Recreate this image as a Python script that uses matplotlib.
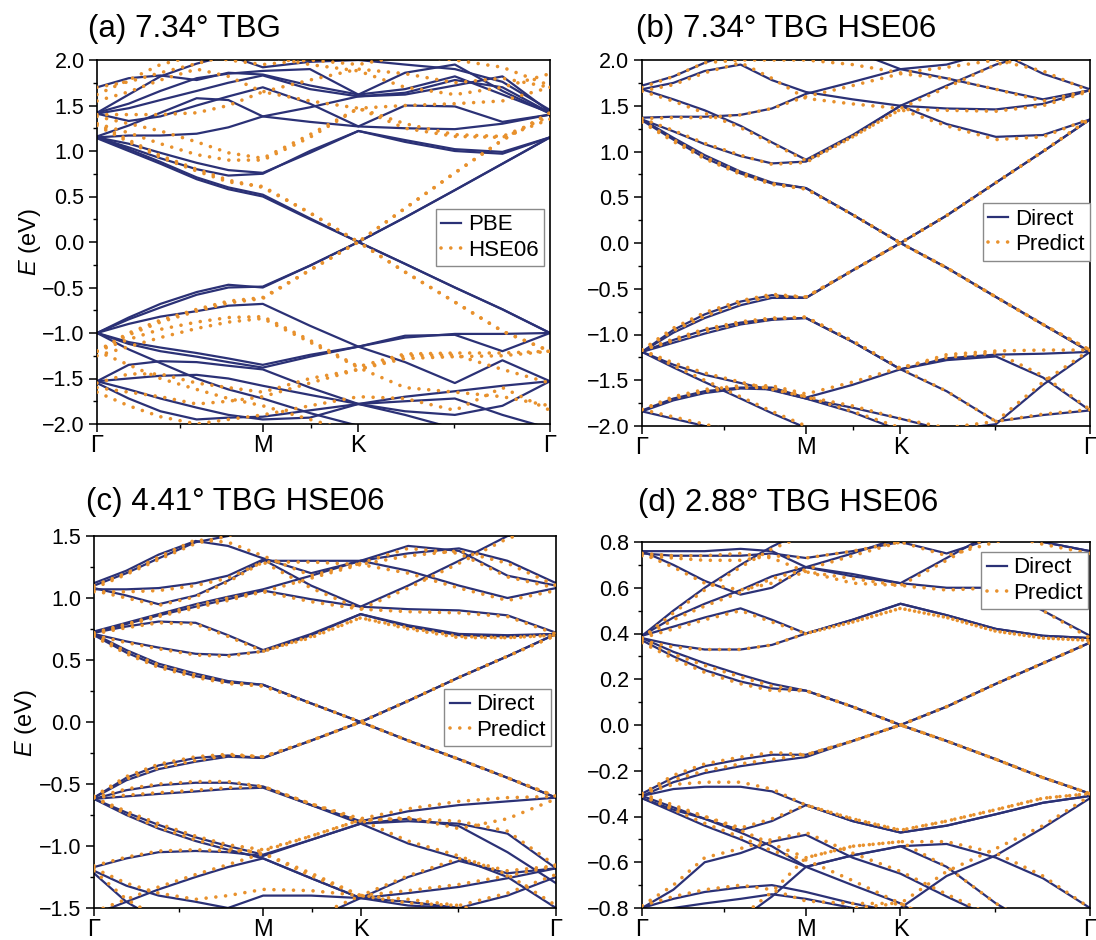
import matplotlib
matplotlib.use("Agg")
import matplotlib.pyplot as plt
from matplotlib.ticker import MultipleLocator, FuncFormatter

plt.rcParams['font.family'] = ['Liberation Sans', 'DejaVu Sans']
plt.rcParams['mathtext.fontset'] = 'custom'
plt.rcParams['mathtext.it'] = 'Liberation Sans:italic'
plt.rcParams['mathtext.rm'] = 'Liberation Sans'

# k-path sample positions (fraction of Γ-M-K-Γ path)
kgrid = [0, 0.07, 0.14, 0.22, 0.29, 0.366, 0.47, 0.577, 0.68, 0.79, 0.895, 1.0]
kticks = [0, 0.366, 0.577, 1.0]
klabels = ['Γ', 'M', 'K', 'Γ']
kminor = [0.183, 0.4717, 0.7887]

# ---------------- panel (a): 7.34° TBG, PBE vs HSE06 ----------------
a_pbe = [
    [1.15, 1.02, 0.88, 0.71, 0.60, 0.52, 0.26, 0.00, 0.27, 0.57, 0.86, 1.15],
    [1.14, 1.00, 0.86, 0.69, 0.58, 0.50, 0.25, 0.00, 0.27, 0.57, 0.86, 1.15],
    [1.15, 1.04, 0.92, 0.80, 0.73, 0.75, 1.00, 1.22, 1.10, 1.00, 0.97, 1.15],
    [1.15, 1.08, 0.98, 0.87, 0.79, 0.76, 0.98, 1.22, 1.12, 1.02, 0.99, 1.15],
    [1.15, 1.17, 1.17, 1.19, 1.26, 1.38, 1.32, 1.27, 1.25, 1.24, 1.30, 1.40],
    [1.16, 1.28, 1.42, 1.58, 1.56, 1.38, 1.48, 1.60, 1.64, 1.78, 1.70, 1.42],
    [1.41, 1.33, 1.38, 1.50, 1.60, 1.70, 1.52, 1.27, 1.50, 1.49, 1.32, 1.40],
    [1.41, 1.47, 1.56, 1.66, 1.75, 1.83, 1.68, 1.60, 1.62, 1.72, 1.82, 1.43],
    [1.42, 1.52, 1.66, 1.80, 1.85, 1.88, 1.90, 1.62, 1.68, 1.82, 1.62, 1.42],
    [1.70, 1.80, 1.83, 1.78, 1.86, 1.84, 1.72, 1.62, 1.86, 1.95, 1.66, 1.41],
    [1.42, 1.62, 1.82, 1.96, 2.05, 1.92, 1.98, 2.00, 1.95, 1.90, 1.76, 1.45],
    [-1.00, -0.85, -0.72, -0.58, -0.50, -0.49, -0.26, 0.00, -0.24, -0.50, -0.74, -1.00],
    [-1.00, -0.83, -0.68, -0.55, -0.47, -0.50, -0.26, 0.00, -0.24, -0.50, -0.74, -1.00],
    [-1.00, -0.90, -0.82, -0.76, -0.70, -0.68, -0.92, -1.15, -1.32, -1.55, -1.30, -1.53],
    [-1.00, -1.12, -1.20, -1.26, -1.32, -1.38, -1.26, -1.15, -1.05, -1.01, -1.01, -1.00],
    [-1.00, -1.10, -1.16, -1.22, -1.28, -1.35, -1.24, -1.15, -1.03, -1.02, -1.20, -1.00],
    [-1.53, -1.35, -1.31, -1.32, -1.36, -1.40, -1.60, -1.78, -1.90, -2.05, -2.10, -2.10],
    [-1.53, -1.50, -1.47, -1.46, -1.50, -1.58, -1.68, -1.78, -1.70, -1.64, -1.58, -1.53],
    [-1.53, -1.62, -1.72, -1.82, -1.90, -1.95, -1.93, -1.78, -1.86, -1.90, -1.80, -1.53],
    [-1.00, -1.18, -1.33, -1.50, -1.62, -1.72, -1.88, -2.02, -2.10, -2.10, -2.10, -2.10],
    [-1.55, -1.72, -1.86, -1.95, -1.93, -1.92, -1.85, -1.78, -1.75, -1.72, -1.90, -2.05],
]
a_hse = [
    [1.30, 1.12, 0.95, 0.80, 0.68, 0.60, 0.32, 0.00, 0.37, 0.76, 1.12, 1.42],
    [1.28, 1.10, 0.93, 0.78, 0.66, 0.61, 0.32, 0.00, 0.37, 0.76, 1.12, 1.42],
    [1.30, 1.20, 1.08, 0.96, 0.90, 0.90, 1.15, 1.47, 1.25, 1.16, 1.15, 1.35],
    [1.38, 1.30, 1.22, 1.10, 0.98, 0.92, 1.18, 1.47, 1.30, 1.18, 1.16, 1.38],
    [1.40, 1.40, 1.40, 1.42, 1.50, 1.65, 1.55, 1.47, 1.50, 1.52, 1.55, 1.70],
    [1.55, 1.65, 1.78, 1.90, 1.82, 1.65, 1.78, 1.90, 1.85, 1.75, 1.80, 1.70],
    [1.62, 1.78, 1.95, 2.05, 2.00, 1.95, 2.00, 1.95, 2.05, 2.00, 1.92, 1.72],
    [1.70, 1.76, 1.86, 1.96, 2.05, 2.05, 1.95, 1.88, 1.70, 1.62, 1.70, 1.85],
    [-1.20, -1.00, -0.86, -0.74, -0.65, -0.61, -0.31, 0.00, -0.33, -0.66, -0.98, -1.20],
    [-1.20, -1.02, -0.88, -0.76, -0.67, -0.62, -0.31, 0.00, -0.33, -0.66, -0.98, -1.20],
    [-1.20, -1.07, -0.96, -0.88, -0.83, -0.82, -1.08, -1.37, -1.23, -1.22, -1.22, -1.20],
    [-1.25, -1.15, -1.05, -0.95, -0.88, -0.84, -1.10, -1.38, -1.60, -1.65, -1.70, -1.80],
    [-1.55, -1.45, -1.45, -1.55, -1.60, -1.65, -1.50, -1.40, -1.25, -1.24, -1.40, -1.55],
    [-1.60, -1.65, -1.70, -1.78, -1.75, -1.70, -1.55, -1.40, -1.28, -1.26, -1.25, -1.20],
    [-1.20, -1.35, -1.50, -1.62, -1.72, -1.80, -1.95, -2.10, -2.10, -2.10, -2.10, -2.10],
    [-1.65, -1.80, -1.92, -2.00, -1.95, -1.90, -1.80, -1.70, -1.72, -1.85, -1.60, -1.85],
]

# ---------------- panel (b): 7.34° TBG HSE06, Direct vs Predict ----------------
b_dir = [
    [1.35, 1.15, 0.96, 0.78, 0.66, 0.60, 0.31, 0.00, 0.30, 0.66, 1.00, 1.35],
    [1.34, 1.13, 0.93, 0.76, 0.65, 0.60, 0.31, 0.00, 0.30, 0.66, 1.00, 1.35],
    [1.35, 1.22, 1.08, 0.95, 0.87, 0.89, 1.17, 1.50, 1.30, 1.16, 1.18, 1.35],
    [1.68, 1.57, 1.45, 1.28, 1.10, 0.91, 1.18, 1.50, 1.47, 1.46, 1.52, 1.67],
    [1.37, 1.38, 1.38, 1.40, 1.47, 1.63, 1.76, 1.90, 1.80, 1.68, 1.57, 1.67],
    [1.68, 1.75, 1.88, 1.95, 1.78, 1.65, 1.57, 1.50, 1.72, 1.95, 2.10, 2.10],
    [1.72, 1.82, 1.97, 2.10, 2.10, 2.10, 2.10, 1.90, 1.95, 2.10, 1.85, 1.68],
    [-1.19, -0.98, -0.82, -0.68, -0.60, -0.60, -0.30, 0.00, -0.27, -0.59, -0.89, -1.19],
    [-1.19, -0.95, -0.78, -0.64, -0.57, -0.60, -0.30, 0.00, -0.27, -0.59, -0.89, -1.19],
    [-1.19, -1.06, -0.95, -0.87, -0.83, -0.82, -1.08, -1.38, -1.62, -1.95, -1.88, -1.83],
    [-1.19, -1.09, -0.99, -0.89, -0.84, -0.82, -1.08, -1.38, -1.26, -1.22, -1.21, -1.19],
    [-1.19, -1.33, -1.44, -1.53, -1.61, -1.70, -1.85, -2.05, -2.20, -2.20, -2.20, -2.20],
    [-1.19, -1.36, -1.52, -1.70, -1.86, -2.02, -2.20, -2.20, -2.20, -2.20, -2.20, -2.20],
    [-1.83, -1.70, -1.62, -1.58, -1.58, -1.69, -1.55, -1.38, -1.28, -1.24, -1.47, -1.83],
    [-1.84, -1.72, -1.64, -1.59, -1.60, -1.70, -1.80, -1.92, -2.05, -1.98, -1.55, -1.19],
    [-1.84, -1.92, -2.00, -2.10, -2.20, -2.20, -2.20, -2.20, -2.20, -2.20, -2.20, -2.20],
]
b_pred = [
    [1.33, 1.13, 0.94, 0.77, 0.65, 0.59, 0.31, 0.00, 0.30, 0.66, 1.00, 1.36],
    [1.32, 1.11, 0.92, 0.75, 0.64, 0.59, 0.31, 0.00, 0.30, 0.66, 1.00, 1.36],
    [1.36, 1.23, 1.09, 0.96, 0.86, 0.88, 1.16, 1.46, 1.28, 1.13, 1.16, 1.36],
    [1.66, 1.55, 1.42, 1.26, 1.09, 0.90, 1.16, 1.46, 1.45, 1.44, 1.50, 1.66],
    [1.36, 1.37, 1.37, 1.40, 1.47, 1.60, 1.72, 1.85, 1.80, 1.68, 1.55, 1.67],
    [1.66, 1.73, 1.86, 1.97, 1.80, 1.58, 1.52, 1.47, 1.70, 1.95, 2.05, 2.10],
    [1.70, 1.82, 1.97, 2.00, 2.00, 2.00, 1.95, 1.86, 1.92, 2.00, 1.88, 1.66],
    [-1.17, -0.96, -0.80, -0.66, -0.58, -0.59, -0.30, 0.00, -0.27, -0.59, -0.89, -1.17],
    [-1.17, -0.93, -0.76, -0.63, -0.56, -0.59, -0.30, 0.00, -0.27, -0.59, -0.89, -1.17],
    [-1.17, -1.05, -0.94, -0.86, -0.82, -0.81, -1.07, -1.37, -1.62, -1.95, -1.87, -1.82],
    [-1.17, -1.07, -0.97, -0.88, -0.83, -0.81, -1.07, -1.37, -1.22, -1.18, -1.17, -1.17],
    [-1.17, -1.31, -1.42, -1.52, -1.60, -1.68, -1.84, -2.02, -2.20, -2.20, -2.20, -2.20],
    [-1.17, -1.34, -1.50, -1.68, -1.84, -2.00, -2.20, -2.20, -2.20, -2.20, -2.20, -2.20],
    [-1.82, -1.68, -1.60, -1.56, -1.56, -1.65, -1.52, -1.36, -1.25, -1.20, -1.45, -1.82],
    [-1.82, -1.70, -1.62, -1.58, -1.58, -1.68, -1.78, -1.92, -2.02, -1.95, -1.52, -1.17],
    [-1.82, -1.90, -1.98, -2.08, -2.20, -2.20, -2.20, -2.20, -2.20, -2.20, -2.20, -2.20],
]

# ---------------- panel (c): 4.41° TBG HSE06 ----------------
c_dir = [
    [0.71, 0.58, 0.47, 0.39, 0.33, 0.30, 0.15, 0.00, 0.17, 0.36, 0.53, 0.71],
    [0.70, 0.56, 0.45, 0.37, 0.32, 0.30, 0.15, 0.00, 0.17, 0.36, 0.53, 0.71],
    [0.71, 0.65, 0.60, 0.55, 0.54, 0.57, 0.70, 0.87, 0.77, 0.70, 0.69, 0.71],
    [0.72, 0.77, 0.81, 0.80, 0.70, 0.58, 0.71, 0.87, 0.78, 0.71, 0.70, 0.71],
    [0.72, 0.79, 0.86, 0.93, 0.99, 1.06, 0.99, 0.93, 0.91, 0.90, 0.86, 0.72],
    [0.73, 0.80, 0.87, 0.95, 1.01, 1.07, 1.18, 1.30, 1.22, 1.10, 1.00, 1.08],
    [1.08, 1.02, 0.95, 1.02, 1.14, 1.30, 1.30, 1.30, 1.36, 1.40, 1.30, 1.12],
    [1.07, 1.07, 1.08, 1.12, 1.18, 1.31, 1.10, 0.93, 1.10, 1.30, 1.50, 1.60],
    [1.10, 1.20, 1.32, 1.45, 1.50, 1.60, 1.60, 1.60, 1.60, 1.60, 1.60, 1.60],
    [1.12, 1.22, 1.35, 1.46, 1.42, 1.32, 1.20, 1.30, 1.42, 1.38, 1.18, 1.10],
    [-0.61, -0.47, -0.38, -0.32, -0.28, -0.29, -0.15, 0.00, -0.15, -0.30, -0.45, -0.61],
    [-0.61, -0.45, -0.35, -0.29, -0.27, -0.29, -0.15, 0.00, -0.15, -0.30, -0.45, -0.61],
    [-0.62, -0.55, -0.51, -0.49, -0.49, -0.52, -0.67, -0.82, -0.78, -0.84, -1.05, -1.30],
    [-0.62, -0.60, -0.58, -0.56, -0.54, -0.53, -0.67, -0.80, -0.72, -0.67, -0.64, -0.61],
    [-0.62, -0.73, -0.83, -0.93, -1.00, -1.07, -0.95, -0.82, -0.98, -1.10, -1.25, -1.50],
    [-0.62, -0.75, -0.86, -0.96, -1.03, -1.10, -1.26, -1.42, -1.25, -1.12, -1.22, -1.18],
    [-1.17, -1.10, -1.05, -1.04, -1.05, -1.08, -0.95, -0.82, -0.80, -0.82, -0.90, -1.18],
    [-1.20, -1.32, -1.40, -1.45, -1.50, -1.40, -1.40, -1.42, -1.38, -1.33, -1.26, -1.18],
    [-1.55, -1.45, -1.35, -1.25, -1.17, -1.10, -1.26, -1.42, -1.45, -1.50, -1.60, -1.60],
    [-1.22, -1.45, -1.60, -1.70, -1.70, -1.70, -1.60, -1.42, -1.48, -1.50, -1.40, -1.25],
]
c_pred = [
    [0.70, 0.57, 0.46, 0.38, 0.32, 0.29, 0.15, 0.00, 0.17, 0.36, 0.53, 0.70],
    [0.69, 0.55, 0.44, 0.36, 0.31, 0.29, 0.15, 0.00, 0.17, 0.36, 0.53, 0.70],
    [0.70, 0.64, 0.59, 0.54, 0.53, 0.57, 0.68, 0.84, 0.75, 0.68, 0.68, 0.70],
    [0.71, 0.76, 0.80, 0.79, 0.69, 0.57, 0.69, 0.84, 0.76, 0.69, 0.68, 0.70],
    [0.71, 0.78, 0.85, 0.92, 0.98, 1.05, 0.97, 0.91, 0.89, 0.88, 0.85, 0.71],
    [0.72, 0.79, 0.86, 0.94, 1.00, 1.05, 1.16, 1.27, 1.20, 1.08, 0.98, 1.06],
    [1.06, 1.00, 0.94, 1.01, 1.13, 1.29, 1.29, 1.27, 1.34, 1.38, 1.28, 1.10],
    [1.05, 1.05, 1.06, 1.10, 1.16, 1.29, 1.08, 0.91, 1.08, 1.28, 1.48, 1.60],
    [1.08, 1.19, 1.31, 1.44, 1.50, 1.60, 1.60, 1.60, 1.60, 1.60, 1.60, 1.60],
    [1.10, 1.20, 1.33, 1.47, 1.45, 1.34, 1.18, 1.28, 1.40, 1.36, 1.17, 1.08],
    [-0.60, -0.46, -0.37, -0.31, -0.27, -0.28, -0.15, 0.00, -0.15, -0.30, -0.45, -0.60],
    [-0.60, -0.44, -0.34, -0.28, -0.26, -0.28, -0.15, 0.00, -0.15, -0.30, -0.45, -0.60],
    [-0.61, -0.54, -0.50, -0.48, -0.48, -0.52, -0.66, -0.80, -0.77, -0.86, -0.78, -0.62],
    [-0.61, -0.59, -0.57, -0.55, -0.53, -0.52, -0.66, -0.78, -0.70, -0.64, -0.61, -0.60],
    [-0.61, -0.72, -0.82, -0.92, -0.99, -1.03, -0.92, -0.79, -0.96, -1.08, -1.23, -1.48],
    [-0.61, -0.74, -0.85, -0.95, -1.02, -1.06, -1.24, -1.40, -1.24, -1.10, -1.20, -1.16],
    [-1.16, -1.09, -1.04, -1.03, -1.04, -1.04, -0.92, -0.79, -0.78, -0.80, -0.88, -1.16],
    [-1.18, -1.30, -1.38, -1.43, -1.40, -1.35, -1.36, -1.40, -1.36, -1.31, -1.24, -1.16],
    [-1.53, -1.43, -1.33, -1.23, -1.15, -1.06, -1.22, -1.40, -1.43, -1.48, -1.58, -1.60],
    [-1.20, -1.43, -1.58, -1.68, -1.68, -1.68, -1.58, -1.40, -1.46, -1.48, -1.38, -1.23],
]

# ---------------- panel (d): 2.88° TBG HSE06 ----------------
d_dir = [
    [0.37, 0.30, 0.24, 0.19, 0.16, 0.15, 0.08, 0.00, 0.08, 0.18, 0.27, 0.36],
    [0.38, 0.32, 0.27, 0.22, 0.18, 0.15, 0.08, 0.00, 0.08, 0.18, 0.27, 0.36],
    [0.38, 0.35, 0.33, 0.33, 0.35, 0.40, 0.46, 0.53, 0.48, 0.42, 0.39, 0.38],
    [0.39, 0.43, 0.47, 0.51, 0.46, 0.40, 0.46, 0.53, 0.48, 0.42, 0.39, 0.38],
    [0.39, 0.47, 0.53, 0.59, 0.65, 0.69, 0.75, 0.82, 0.86, 0.85, 0.80, 0.76],
    [0.39, 0.50, 0.60, 0.70, 0.78, 0.85, 0.90, 0.90, 0.90, 0.90, 0.90, 0.90],
    [0.76, 0.70, 0.63, 0.57, 0.60, 0.69, 0.65, 0.62, 0.60, 0.60, 0.50, 0.39],
    [0.76, 0.76, 0.76, 0.77, 0.76, 0.69, 0.66, 0.62, 0.73, 0.85, 0.85, 0.85],
    [0.75, 0.74, 0.74, 0.74, 0.75, 0.73, 0.76, 0.80, 0.75, 0.82, 0.85, 0.85],
    [0.85, 0.85, 0.85, 0.85, 0.85, 0.85, 0.85, 0.85, 0.85, 0.85, 0.80, 0.76],
    [-0.30, -0.23, -0.18, -0.15, -0.13, -0.13, -0.07, 0.00, -0.07, -0.15, -0.23, -0.30],
    [-0.31, -0.25, -0.21, -0.18, -0.16, -0.14, -0.07, 0.00, -0.07, -0.15, -0.23, -0.30],
    [-0.31, -0.28, -0.27, -0.27, -0.29, -0.35, -0.42, -0.47, -0.44, -0.39, -0.34, -0.31],
    [-0.32, -0.37, -0.41, -0.46, -0.42, -0.35, -0.42, -0.47, -0.44, -0.39, -0.34, -0.31],
    [-0.32, -0.38, -0.44, -0.50, -0.56, -0.62, -0.70, -0.78, -0.90, -0.95, -0.95, -0.95],
    [-0.31, -0.36, -0.41, -0.47, -0.53, -0.62, -0.57, -0.53, -0.52, -0.58, -0.67, -0.80],
    [-0.90, -0.90, -0.90, -0.85, -0.75, -0.62, -0.57, -0.53, -0.62, -0.78, -0.90, -0.95],
    [-0.95, -0.95, -0.95, -0.95, -0.90, -0.85, -0.82, -0.80, -0.66, -0.57, -0.45, -0.32],
    [-0.80, -0.72, -0.60, -0.56, -0.51, -0.48, -0.58, -0.65, -0.75, -0.85, -0.90, -0.95],
    [-0.80, -0.76, -0.73, -0.71, -0.70, -0.73, -0.78, -0.82, -0.90, -0.95, -0.95, -0.95],
    [-0.82, -0.80, -0.78, -0.76, -0.74, -0.76, -0.80, -0.90, -0.95, -0.95, -0.95, -0.95],
]
d_pred = [
    [0.36, 0.29, 0.23, 0.18, 0.15, 0.15, 0.08, 0.00, 0.08, 0.18, 0.27, 0.36],
    [0.37, 0.31, 0.26, 0.21, 0.17, 0.15, 0.08, 0.00, 0.08, 0.18, 0.27, 0.36],
    [0.37, 0.34, 0.33, 0.33, 0.35, 0.40, 0.45, 0.51, 0.47, 0.41, 0.38, 0.37],
    [0.38, 0.42, 0.46, 0.50, 0.45, 0.40, 0.45, 0.51, 0.47, 0.41, 0.38, 0.37],
    [0.38, 0.46, 0.52, 0.58, 0.64, 0.68, 0.74, 0.80, 0.85, 0.84, 0.79, 0.75],
    [0.38, 0.49, 0.59, 0.69, 0.77, 0.83, 0.90, 0.90, 0.90, 0.90, 0.90, 0.90],
    [0.75, 0.69, 0.62, 0.59, 0.62, 0.67, 0.62, 0.61, 0.59, 0.60, 0.50, 0.38],
    [0.75, 0.74, 0.74, 0.75, 0.73, 0.67, 0.64, 0.61, 0.72, 0.84, 0.85, 0.85],
    [0.74, 0.73, 0.72, 0.72, 0.74, 0.73, 0.76, 0.80, 0.74, 0.80, 0.85, 0.85],
    [-0.30, -0.22, -0.17, -0.14, -0.12, -0.13, -0.07, 0.00, -0.07, -0.15, -0.23, -0.30],
    [-0.30, -0.24, -0.20, -0.17, -0.15, -0.13, -0.07, 0.00, -0.07, -0.15, -0.23, -0.30],
    [-0.30, -0.26, -0.25, -0.25, -0.28, -0.35, -0.41, -0.46, -0.42, -0.37, -0.32, -0.30],
    [-0.31, -0.36, -0.40, -0.45, -0.41, -0.35, -0.41, -0.46, -0.42, -0.37, -0.32, -0.30],
    [-0.31, -0.37, -0.43, -0.49, -0.55, -0.59, -0.68, -0.78, -0.88, -0.95, -0.95, -0.95],
    [-0.30, -0.35, -0.40, -0.46, -0.52, -0.58, -0.53, -0.51, -0.51, -0.56, -0.66, -0.80],
    [-0.90, -0.90, -0.90, -0.84, -0.73, -0.58, -0.53, -0.51, -0.62, -0.78, -0.90, -0.95],
    [-0.95, -0.95, -0.95, -0.95, -0.90, -0.85, -0.80, -0.78, -0.64, -0.54, -0.44, -0.31],
    [-0.79, -0.70, -0.58, -0.54, -0.50, -0.47, -0.56, -0.64, -0.74, -0.84, -0.90, -0.95],
    [-0.79, -0.75, -0.72, -0.70, -0.72, -0.77, -0.78, -0.78, -0.88, -0.95, -0.95, -0.95],
]

NAVY = '#2b3176'
ORANGE = '#e8912d'
solid = dict(color=NAVY, lw=1.6, solid_joinstyle='round', zorder=2)
dots = dict(color=ORANGE, lw=2.6, linestyle=(0, (0.01, 2.7)),
            dash_capstyle='round', zorder=3)

fig = plt.figure(figsize=(10.96, 9.4), dpi=100)
W, H = 1096.0, 940.0

def axes_px(l, r, t, b):
    return fig.add_axes([l / W, 1 - b / H, (r - l) / W, (b - t) / H])

panels = [
    dict(rect=(97, 550, 60, 424), solid=a_pbe, dots=a_hse, names=('PBE', 'HSE06'),
         ylim=(-2, 2), major=0.5, minor=0.25, fmt='%.1f', leg=(0.748, 0.591),
         title='(a) 7.34° TBG', tpos=(88, 29), ylab=(30, 242)),
    dict(rect=(642, 1090, 60, 426), solid=b_dir, dots=b_pred, names=('Direct', 'Predict'),
         ylim=(-2, 2), major=0.5, minor=0.25, fmt='%.1f', leg=(0.761, 0.609),
         title='(b) 7.34° TBG HSE06', tpos=(636, 29), ylab=None),
    dict(rect=(94, 556, 536, 908), solid=c_dir, dots=c_pred, names=('Direct', 'Predict'),
         ylim=(-1.5, 1.5), major=0.5, minor=0.25, fmt='%.1f', leg=(0.758, 0.589),
         title='(c) 4.41° TBG HSE06', tpos=(86, 502), ylab=(26, 723)),
    dict(rect=(642, 1090, 542, 908), solid=d_dir, dots=d_pred, names=('Direct', 'Predict'),
         ylim=(-0.8, 0.8), major=0.2, minor=0.1, fmt='%.1f', leg=(0.757, 0.973),
         title='(d) 2.88° TBG HSE06', tpos=(638, 503), ylab=None),
]

for p in panels:
    ax = axes_px(*p['rect'])
    for i, band in enumerate(p['solid']):
        ax.plot(kgrid, band, label=p['names'][0] if i == 0 else None, **solid)
    for i, band in enumerate(p['dots']):
        ax.plot(kgrid, band, label=p['names'][1] if i == 0 else None, **dots)
    ax.set_xlim(0, 1)
    ax.set_ylim(*p['ylim'])
    ax.set_xticks(kticks)
    ax.set_xticklabels(klabels)
    ax.set_xticks(kminor, minor=True)
    ax.yaxis.set_major_locator(MultipleLocator(p['major']))
    ax.yaxis.set_minor_locator(MultipleLocator(p['minor']))
    ax.yaxis.set_major_formatter(FuncFormatter(
        lambda v, pos, f=p['fmt']: (f % (0.0 if abs(v) < 1e-9 else v)).replace('-', '\u2212')))
    ax.tick_params(axis='both', which='major', direction='out', length=6, width=1.1, pad=3)
    ax.tick_params(axis='y', which='major', labelsize=15.5)
    ax.tick_params(axis='x', which='major', labelsize=17, pad=2)
    ax.tick_params(axis='both', which='minor', direction='out', length=3, width=1.0)
    for s in ax.spines.values():
        s.set_linewidth(1.2)
    leg = ax.legend(loc='upper left', bbox_to_anchor=p['leg'], borderaxespad=0,
                    fontsize=16, frameon=True, fancybox=False, framealpha=1,
                    edgecolor='#8a8a8a', handlelength=0.9, handletextpad=0.3,
                    borderpad=0.25, labelspacing=0.2)
    leg.get_frame().set_linewidth(1.0)
    fig.text(p['tpos'][0] / W, 1 - p['tpos'][1] / H, p['title'], fontsize=22.5,
             ha='left', va='center')
    if p['ylab'] is not None:
        fig.text(p['ylab'][0] / W, 1 - p['ylab'][1] / H, r'$E$ (eV)', fontsize=17,
                 rotation=90, ha='center', va='center')

fig.savefig('out.png', dpi=100)
